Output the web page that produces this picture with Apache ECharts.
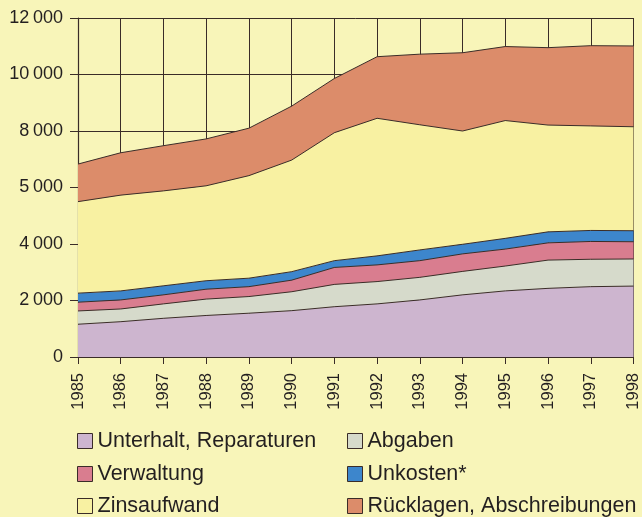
<!DOCTYPE html>
<html>
<head>
<meta charset="utf-8">
<script src="https://cdn.jsdelivr.net/npm/echarts@6/dist/echarts.min.js"></script>
<style>
  html, body { margin: 0; padding: 0; background: #f8f5b9; }
  #chart { width: 642px; height: 517px; }
</style>
</head>
<body>
<div id="chart"></div>
<script>
const years = ['1985', '1986', '1987', '1988', '1989', '1990', '1991', '1992', '1993', '1994', '1995', '1996', '1997', '1998']
const yTickLabels = ['0', '2\u2009000', '4\u2009000', '5\u2009000', '8\u2009000', '10\u2009000', '12\u2009000']

// Werte (gestapelt)
const unterhalt = [1160, 1250, 1370, 1470, 1550, 1640, 1780, 1880, 2020, 2200, 2340, 2430, 2490, 2510]
const abgaben = [470, 450, 510, 580, 590, 670, 790, 790, 800, 830, 880, 1000, 970, 960]
const verwaltung = [310, 320, 320, 350, 350, 410, 600, 590, 590, 620, 600, 610, 630, 610]
const unkosten = [320, 320, 320, 300, 300, 300, 240, 320, 380, 340, 380, 390, 390, 390]
const zinsaufwand = [3240, 3390, 3360, 3360, 3630, 3950, 4530, 4870, 4430, 4010, 4170, 3780, 3700, 3680]
const ruecklagen = [1330, 1500, 1600, 1660, 1680, 1910, 1920, 2180, 2500, 2770, 2620, 2740, 2840, 2860]

const ink = '#3a2c28'
const font = 'Liberation Sans, Arial, sans-serif'

const seriesDefs = [
  { name: 'Unterhalt, Reparaturen', data: unterhalt, color: '#cdb5cf' },
  { name: 'Abgaben', data: abgaben, color: '#d6dacb' },
  { name: 'Verwaltung', data: verwaltung, color: '#d97d8f' },
  { name: 'Unkosten*', data: unkosten, color: '#3d86cc' },
  { name: 'Zinsaufwand', data: zinsaufwand, color: '#f8f1a2' },
  { name: 'Rücklagen, Abschreibungen', data: ruecklagen, color: '#dc8c6a' }
]

// one legend per entry: 2 columns, 3 rows
const legendCols = [77, 347]
const legendRows = [430, 463, 495]

const legends = seriesDefs.map((s, i) => ({
  left: legendCols[i % 2],
  top: legendRows[Math.floor(i / 2)],
  padding: 0,
  icon: 'rect',
  itemWidth: 15,
  itemHeight: 15,
  selectedMode: false,
  textStyle: { fontFamily: font, fontSize: 21.5, lineHeight: 20, color: '#231f20' },
  data: [{ name: s.name, itemStyle: { color: s.color, borderColor: ink, borderWidth: 1 } }]
}))

const chart = echarts.init(document.getElementById('chart'))
chart.setOption({
  backgroundColor: '#f8f5b9',
  animation: false,
  grid: { left: 78, right: 7, top: 18, bottom: 160 },
  legend: legends,
  xAxis: {
    type: 'category',
    data: years,
    boundaryGap: false,
    axisLine: { lineStyle: { color: ink, width: 1.2 } },
    axisTick: { show: true, length: 7, lineStyle: { color: ink } },
    axisLabel: { rotate: 90, margin: 16, fontFamily: font, fontSize: 16.5, color: '#231f20' },
    splitLine: { show: true, lineStyle: { color: ink, width: 1 } }
  },
  yAxis: {
    type: 'value',
    min: 0,
    max: 12000,
    interval: 2000,
    axisLine: { show: true, lineStyle: { color: ink, width: 1.2 } },
    axisTick: { show: true, length: 8, lineStyle: { color: ink } },
    axisLabel: {
      margin: 15,
      fontFamily: font,
      fontSize: 18,
      color: '#231f20',
      formatter: v => yTickLabels[Math.round(v / 2000)]
    },
    splitLine: { show: true, lineStyle: { color: ink, width: 1 } }
  },
  series: seriesDefs.map(s => ({
    name: s.name,
    type: 'line',
    stack: 'total',
    data: s.data,
    symbol: 'none',
    color: s.color,
    lineStyle: { color: ink, width: 1 },
    areaStyle: { color: s.color, opacity: 1 }
  }))
})
</script>
</body>
</html>
